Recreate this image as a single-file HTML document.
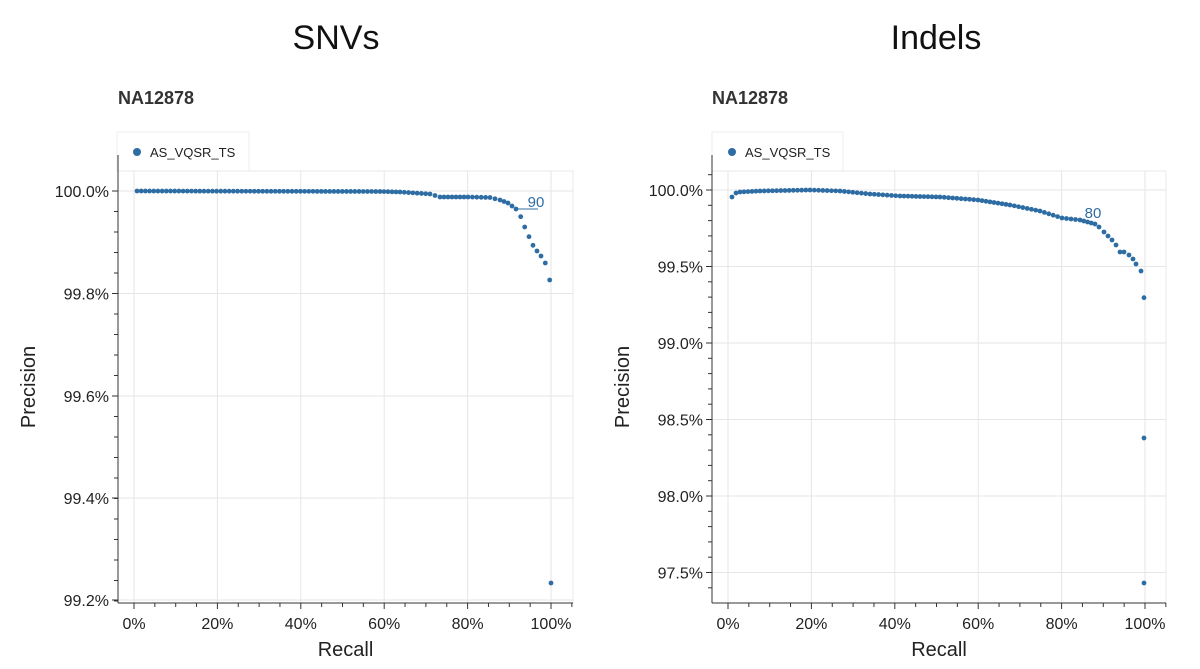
<!DOCTYPE html>
<html><head><meta charset="utf-8"><style>
body{margin:0;background:#fff;width:1200px;height:669px;overflow:hidden}
svg{display:block;font-family:"Liberation Sans",sans-serif}
</style></head><body>
<svg id="s" width="1200" height="669" xmlns="http://www.w3.org/2000/svg">
<text x="336" y="49" font-size="34" text-anchor="middle" fill="#111">SNVs</text>
<text x="936" y="49" font-size="34" text-anchor="middle" fill="#111">Indels</text>
<text x="118" y="104" font-size="18" font-weight="bold" fill="#333">NA12878</text>
<text x="712" y="104" font-size="18" font-weight="bold" fill="#333">NA12878</text>
<g id="g"></g>
</svg>
<script>
var NS="http://www.w3.org/2000/svg",g=document.getElementById('g');
function el(t,a,txt){var e=document.createElementNS(NS,t);for(var k in a)e.setAttribute(k,a[k]);if(txt)e.textContent=txt;g.appendChild(e);return e;}
function panel(P){
 var L=P.L,R=P.R,T=171,B=603;
 el('rect',{x:P.lx,y:132,width:P.lw,height:39,fill:'#fff',stroke:'#eee'});
 el('circle',{cx:P.lx+20,cy:152,r:4,fill:'#2e6da4'});
 el('text',{x:P.lx+33,y:157,'font-size':13,fill:'#222'},'AS_VQSR_TS');
 el('rect',{x:L,y:T,width:R-L,height:B-T,fill:'none',stroke:'#e8e8e8'});
 for(var i=0;i<=5;i++){var x=P.x0+i*P.xs;
  el('line',{x1:x,y1:T,x2:x,y2:B,stroke:'#e6e6e6'});
  el('line',{x1:x,y1:B,x2:x,y2:B+6,stroke:'#333'});
  el('text',{x:x,y:629,'font-size':16,'text-anchor':'middle',fill:'#222'},(i*20)+'%');
  if(i<5)for(var j=1;j<4;j++)el('line',{x1:x+j*P.xs/4,y1:B,x2:x+j*P.xs/4,y2:B+4,stroke:'#333'});
 }
 el('line',{x1:x+P.xs/4,y1:B,x2:x+P.xs/4,y2:B+4,stroke:'#333'});
 P.yt.forEach(function(t){var y=t[0];
  el('line',{x1:L,y1:y,x2:R,y2:y,stroke:'#e6e6e6'});
  el('line',{x1:L-6,y1:y,x2:L,y2:y,stroke:'#333'});
  el('text',{x:L-9,y:y+6,'font-size':16,'text-anchor':'end',fill:'#222'},t[1]);});
 for(var y=P.my0;y<B;y+=P.mys)el('line',{x1:L-4,y1:y,x2:L,y2:y,stroke:'#333'});
 for(var y=P.my0;y>T;y-=P.mys)el('line',{x1:L-4,y1:y,x2:L,y2:y,stroke:'#333'});
 el('line',{x1:L,y1:T-16,x2:L,y2:B,stroke:'#333'});
 el('line',{x1:L,y1:B,x2:R,y2:B,stroke:'#333'});
 el('text',{x:(L+R)/2,y:656,'font-size':20,'text-anchor':'middle',fill:'#222'},'Recall');
 el('text',{x:0,y:0,'font-size':20,'text-anchor':'middle',fill:'#222',transform:'translate('+(L-83)+',387) rotate(-90)'},'Precision');
 var k=P.k;
 for(var i=0;i<k.length-1;i++){var a=k[i],b=k[i+1],n=Math.max(1,Math.round((b[0]-a[0])/P.step));
  for(var j=0;j<n;j++){var f=j/n;el('circle',{cx:a[0]+(b[0]-a[0])*f,cy:a[1]+(b[1]-a[1])*f,r:2.4,fill:'#2e6da4'});}}
 var l=k[k.length-1];el('circle',{cx:l[0],cy:l[1],r:2.4,fill:'#2e6da4'});
 P.ex.forEach(function(p){el('circle',{cx:p[0],cy:p[1],r:2.4,fill:'#2e6da4'});});
}
panel({L:118,R:573,x0:134,xs:83.4,lx:117,lw:132,
 yt:[[191,'100.0%'],[293.5,'99.8%'],[396,'99.6%'],[498,'99.4%'],[600,'99.2%']],my0:191,mys:20.5,step:4.2,
 k:[[137,191],[380,191.5],[400,192],[430,194],[440,197],[468,197],[490,197.5],[500,200],[508,203],[516,209],[520.7,216.7],[524.7,227],[529,236.7],[533,245.3],[537,251],[541,256],[545.3,263],[549.7,280]],
 ex:[[551,583]]});
panel({L:712,R:1166,x0:728,xs:83.4,lx:712,lw:131,
 yt:[[190,'100.0%'],[266.5,'99.5%'],[343,'99.0%'],[419.5,'98.5%'],[496,'98.0%'],[572.5,'97.5%']],my0:190,mys:15.3,step:4.2,
 k:[[732,197],[736,193],[740,192],[760,191],[810,190],[840,191],[870,194],[900,196],[940,197],[978,200],[1010,205],[1040,211],[1062,218],[1080,220],[1095,224],[1099,227],[1104,232],[1108,236],[1112,240],[1116,245],[1120,252],[1124,252],[1129,255],[1133,259],[1136,264],[1141,271]],
 ex:[[1144,297.7],[1144,438],[1144,583]]});
el('text',{x:1093,y:218,'font-size':15,'text-anchor':'middle',fill:'#2e6da4'},'80');
el('text',{x:536,y:207,'font-size':15,'text-anchor':'middle',fill:'#2e6da4'},'90');
el('line',{x1:518,y1:209,x2:538,y2:209,stroke:'#2e6da4'});
</script>
</body></html>
